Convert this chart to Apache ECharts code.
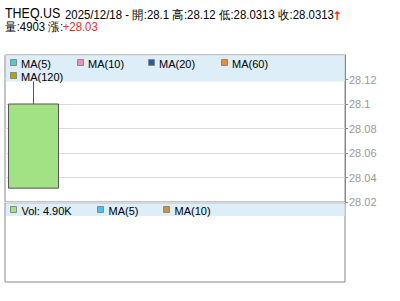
<!DOCTYPE html>
<html><head><meta charset="utf-8">
<script src="https://cdn.jsdelivr.net/npm/echarts@6/dist/echarts.min.js"></script>
<style>html,body{margin:0;padding:0;background:#fff}#c{width:400px;height:301px}</style>
</head><body><div id="c"></div>
<script>
const symbol = 'THEQ.US';
const quoteDate = '2025/12/18';
const categories = ['2025/12/18', 'd2', 'd3', 'd4', 'd5', 'd6'];
const openVals = [28.1];
const closeVals = [28.0313];
const lowVals = [28.0313];
const highVals = [28.12];
const volumes = [4903];
const changeText = '+28.03';
const maLabels = ['MA(5)', 'MA(10)', 'MA(20)', 'MA(60)', 'MA(120)'];
const maColors = ['#46d2cc', '#f48cb8', '#1060b4', '#f5882a', '#b8a400'];
const volLabels = ['Vol: 4.90K', 'MA(5)', 'MA(10)'];
const volColors = ['#a2e284', '#50bff0', '#c8904c'];
const yMin = 28.02, yMax = 28.14, yStep = 0.02;

const FONT = '"Liberation Sans", Arial, sans-serif';
const chart = echarts.init(document.getElementById('c'), null, {renderer: 'svg'});

const candleData = openVals.map((o, i) => [o, closeVals[i], lowVals[i], highVals[i]]);

const g = [];
// header
g.push({type: 'text', z: 100, x: 5, y: 13.5, scaleX: 0.89, style: {x: 0, y: 0, text: symbol, fontFamily: FONT, fontSize: 14, fill: '#000', verticalAlign: 'middle'}});
g.push({type: 'text', z: 100, x: 65, y: 14, scaleX: 0.95, style: {x: 0, y: 0, text: quoteDate + ' - 開:' + openVals[0] + ' 高:' + highVals[0] + ' 低:' + lowVals[0] + ' 收:' + closeVals[0], fontFamily: FONT, fontSize: 12, fill: '#000', verticalAlign: 'middle'}});
g.push({type: 'text', z: 100, style: {x: 332, y: 15.5, text: '↑', fontFamily: '"DejaVu Sans", sans-serif', fontSize: 12, fontWeight: 'bold', fill: '#ff2424', verticalAlign: 'middle'}});
g.push({type: 'text', z: 100, x: 5, y: 26, scaleX: 0.95, style: {x: 0, y: 0, text: '{k|量:' + volumes[0] + ' 漲:}{r|' + changeText + '}', fontFamily: FONT, fontSize: 12, verticalAlign: 'middle', rich: {k: {fill: '#000', fontFamily: FONT, fontSize: 12}, r: {fill: '#ff2424', fontFamily: FONT, fontSize: 12}}}});
// legend bands
g.push({type: 'rect', z: 100, shape: {x: 6, y: 55.5, width: 338.5, height: 26}, style: {fill: '#ddeef9'}});
g.push({type: 'rect', z: 100, shape: {x: 6, y: 203.5, width: 338.5, height: 12.5}, style: {fill: '#ddeef9'}});
const maPos = [[10, 63], [77, 63], [148, 63], [221, 63], [10, 76]];
maLabels.forEach((t, i) => {
  const [x, y] = maPos[i];
  g.push({type: 'rect', z: 101, shape: {x: x + 0.5, y: y - 3.5, width: 6, height: 6}, style: {fill: maColors[i], stroke: '#888', lineWidth: 1}});
  g.push({type: 'text', z: 101, style: {x: x + 11, y: y + 0.5, text: t, fontFamily: FONT, fontSize: 11, fill: '#000', verticalAlign: 'middle'}});
});
const volPos = [[10, 210], [97, 210], [163, 210]];
volLabels.forEach((t, i) => {
  const [x, y] = volPos[i];
  g.push({type: 'rect', z: 101, shape: {x: x + 0.5, y: y - 3.5, width: 6, height: 6}, style: {fill: volColors[i], stroke: '#888', lineWidth: 1}});
  g.push({type: 'text', z: 101, style: {x: x + 11.5, y: y + 0.5, text: t, fontFamily: FONT, fontSize: 11, fill: '#000', verticalAlign: 'middle'}});
});

chart.setOption({
  animation: false,
  backgroundColor: '#fff',
  grid: [
    {left: 5, right: 55, top: 55, height: 147, show: true, borderColor: '#888', borderWidth: 1, backgroundColor: 'transparent'},
    {left: 5, right: 55, top: 203, height: 79, show: true, borderColor: '#888', borderWidth: 1, backgroundColor: 'transparent'}
  ],
  xAxis: [
    {type: 'category', gridIndex: 0, data: categories, boundaryGap: true, axisLine: {show: false}, axisTick: {show: false}, axisLabel: {show: false}, splitLine: {show: false}},
    {type: 'category', gridIndex: 1, data: categories, show: false}
  ],
  yAxis: [
    {type: 'value', gridIndex: 0, position: 'right', min: yMin, max: yMax, interval: yStep, scale: true,
     axisLine: {show: true, lineStyle: {color: '#888'}},
     axisTick: {show: true, length: 3, lineStyle: {color: '#888'}},
     axisLabel: {show: true, showMaxLabel: false, color: '#999', fontFamily: FONT, fontSize: 11, margin: 4},
     splitLine: {show: true, lineStyle: {color: '#dadada'}}},
    {type: 'value', gridIndex: 1, show: false, splitLine: {show: false}}
  ],
  graphic: g,
  series: [
    {type: 'candlestick', xAxisIndex: 0, yAxisIndex: 0, data: candleData, barWidth: 50,
     itemStyle: {color: '#a2e284', color0: '#a2e284', borderColor: '#555', borderColor0: '#555', borderWidth: 1}}
  ]
});
</script></body></html>
